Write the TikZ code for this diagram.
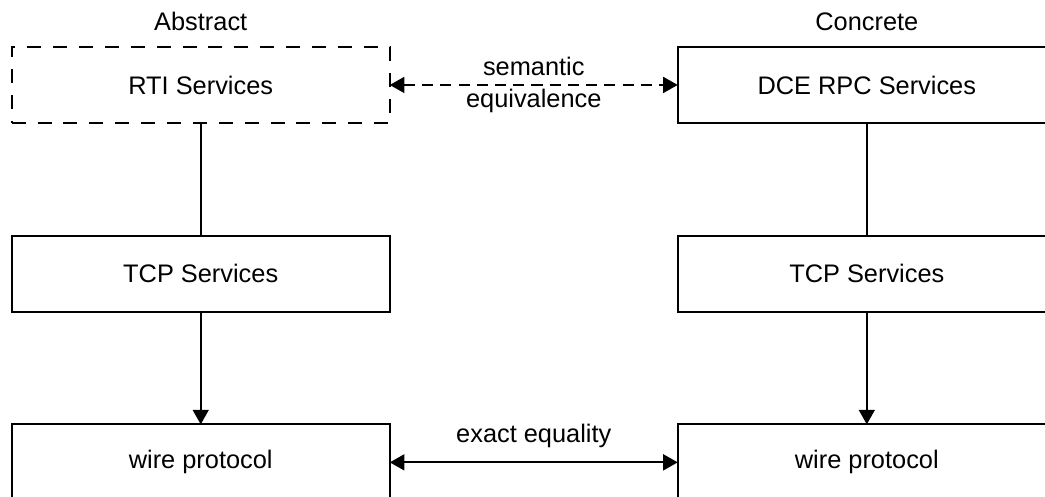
\documentclass[tikz,border=0pt]{standalone}
\usepackage{fontspec}
\setmainfont{Liberation Sans}
\usetikzlibrary{positioning,arrows.meta}

\tikzset{
  layer/.style={draw, line width=0.75pt, minimum width=5.03cm, minimum height=1.01cm,
    inner sep=0pt, outer sep=0pt},
  abstractlayer/.style={layer, dash pattern=on 5.3pt off 4.5pt},
  tip/.style={-{Triangle[length=5.5pt,width=6pt]}},
  bothtips/.style={{Triangle[length=5.5pt,width=6pt]}-{Triangle[length=5.5pt,width=6pt]}}
}

\begin{document}
\begin{tikzpicture}[font=\fontsize{9.6}{12.1}\selectfont, line width=0.75pt,
    node distance=1.5cm and 3.83cm]
      \useasboundingbox (0,0) rectangle (13.90,-6.61);
      \clip (0,0) rectangle (13.90,-6.61);
      % Define nodes
      \node[abstractlayer] (rti) at (2.67,-1.13) {RTI Services};
      \node[layer, below=of rti]    (tcpa)  {TCP Services};
      \node[layer, below=of tcpa]   (wirea) {wire protocol};
      \node[layer, right=of rti]    (dce)   {DCE RPC Services};
      \node[layer, right=of tcpa]   (tcpc)  {TCP Services};
      \node[layer, right=of wirea]  (wirec) {wire protocol};
      \node[above=2.5pt of rti] (abs) {Abstract};
      \node[above=2.5pt of dce] (con) {Concrete};
      % Connect nodes
      \draw (rti) -- (tcpa);
      \draw[tip] (tcpa) -- (wirea);
      \draw (dce) -- (tcpc);
      \draw[tip] (tcpc) -- (wirec);
      \draw[bothtips, dash pattern=on 4.2pt off 2.7pt] (rti) -- node[align=center] {semantic\\equivalence} (dce);
      \draw[bothtips] (wirea) -- node[above=2pt] {exact equality} (wirec);
    \end{tikzpicture}
\end{document}
